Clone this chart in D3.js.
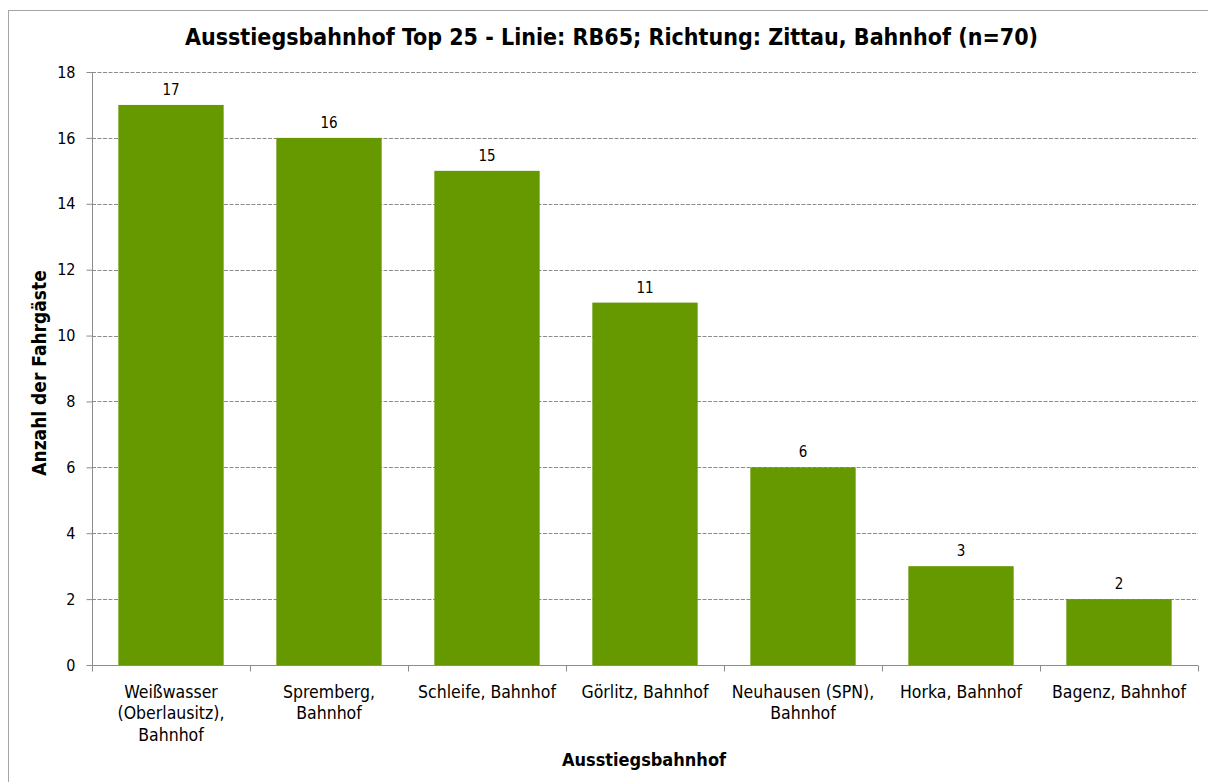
<!DOCTYPE html>
<html>
<head>
<meta charset="utf-8">
<script src="https://cdn.jsdelivr.net/npm/d3@7"></script>
<style>
  html, body { margin: 0; padding: 0; background: #fff; }
  svg { display: block; font-family: "DejaVu Sans Condensed", "DejaVu Sans", sans-serif; }
</style>
</head>
<body>
<svg id="chart" width="1208" height="782"></svg>
<script>
const categories = [
  ["Weißwasser", "(Oberlausitz),", "Bahnhof"],
  ["Spremberg,", "Bahnhof"],
  ["Schleife, Bahnhof"],
  ["Görlitz, Bahnhof"],
  ["Neuhausen (SPN),", "Bahnhof"],
  ["Horka, Bahnhof"],
  ["Bagenz, Bahnhof"]
];
const values = [17, 16, 15, 11, 6, 3, 2];
const yTicks = [0, 2, 4, 6, 8, 10, 12, 14, 16, 18];
const titleText = "Ausstiegsbahnhof Top 25 - Linie: RB65; Richtung: Zittau, Bahnhof (n=70)";
const xTitle = "Ausstiegsbahnhof";
const yTitle = "Anzahl der Fahrgäste";

const FONT = "\"DejaVu Sans Condensed\", \"DejaVu Sans\", sans-serif";
const svg = d3.select("#chart");
const W = 1208, H = 782;
const m = { left: 92, right: 10, top: 72, bottom: 117 };
const plotW = W - m.left - m.right;
const plotH = H - m.top - m.bottom;

// outer chart border (only left/top visible)
svg.append("rect").attr("x", 8.5).attr("y", 10.5).attr("width", 1220).attr("height", 800)
  .attr("fill", "none").attr("stroke", "#a6a6a6").attr("stroke-width", 1);

const keys = categories.map((c, i) => i);
const x = d3.scaleBand().domain(keys).range([m.left, m.left + plotW])
  .paddingInner(1/3).paddingOuter(1/6);
const y = d3.scaleLinear().domain([0, 18]).range([m.top + plotH, m.top]);

// gridlines
svg.append("g").selectAll("line").data(yTicks.filter(d => d > 0)).join("line")
  .attr("x1", m.left).attr("x2", m.left + plotW)
  .attr("y1", d => Math.round(y(d)) + 0.5).attr("y2", d => Math.round(y(d)) + 0.5)
  .attr("stroke", "#8c8c8c").attr("stroke-width", 1).attr("stroke-dasharray", "4,1.5");

// bars
svg.append("g").selectAll("rect").data(values).join("rect")
  .attr("x", (d, i) => x(i)).attr("width", x.bandwidth())
  .attr("y", d => y(d)).attr("height", d => y(0) - y(d))
  .attr("fill", "#669900");

// data labels
svg.append("g").selectAll("text").data(values).join("text")
  .attr("x", (d, i) => x(i) + x.bandwidth() / 2)
  .attr("y", d => y(d) - 10)
  .attr("text-anchor", "middle").attr("font-size", 15).attr("fill", "#000")
  .text(d => d);

// y axis
const yAxis = d3.axisLeft(y).tickValues(yTicks).tickSize(6).tickPadding(11);
const gy = svg.append("g").attr("transform", `translate(${m.left + 0.5},0)`).call(yAxis);
gy.attr("font-family", FONT).attr("font-size", 16);
gy.select(".domain").attr("stroke", "#8c8c8c").attr("d", `M-0,${y(18)}V${y(0)}`);
gy.selectAll(".tick line").attr("stroke", "#8c8c8c");
gy.selectAll(".tick text").attr("fill", "#000");

// x axis
const gx = svg.append("g").attr("transform", `translate(0,${Math.round(y(0)) + 0.5})`);
gx.append("line").attr("x1", m.left).attr("x2", m.left + plotW).attr("stroke", "#8c8c8c");
const bounds = d3.range(categories.length + 1).map(i => m.left + i * x.step());
gx.selectAll("line.tk").data(bounds).join("line").attr("class", "tk")
  .attr("x1", d => Math.round(d) + 0.5).attr("x2", d => Math.round(d) + 0.5)
  .attr("y1", 0).attr("y2", 6).attr("stroke", "#8c8c8c");
const lbl = gx.selectAll("text.cat").data(categories).join("text").attr("class", "cat")
  .attr("text-anchor", "middle").attr("font-size", 17.5).attr("fill", "#000")
  .attr("transform", (d, i) => `translate(${x(i) + x.bandwidth() / 2},32)`);
lbl.selectAll("tspan").data(d => d).join("tspan")
  .attr("x", 0).attr("dy", (d, j) => j === 0 ? 0 : 21.5).text(d => d);

// titles
svg.append("text").attr("x", 611.5).attr("y", 45).attr("text-anchor", "middle")
  .attr("font-size", 23).attr("font-weight", "bold").text(titleText);
svg.append("text").attr("x", 644).attr("y", 766).attr("text-anchor", "middle")
  .attr("font-size", 18).attr("font-weight", "bold").text(xTitle);
svg.append("text").attr("transform", "translate(46,373) rotate(-90)").attr("text-anchor", "middle")
  .attr("font-size", 19).attr("font-weight", "bold").text(yTitle);
</script>
</body>
</html>
